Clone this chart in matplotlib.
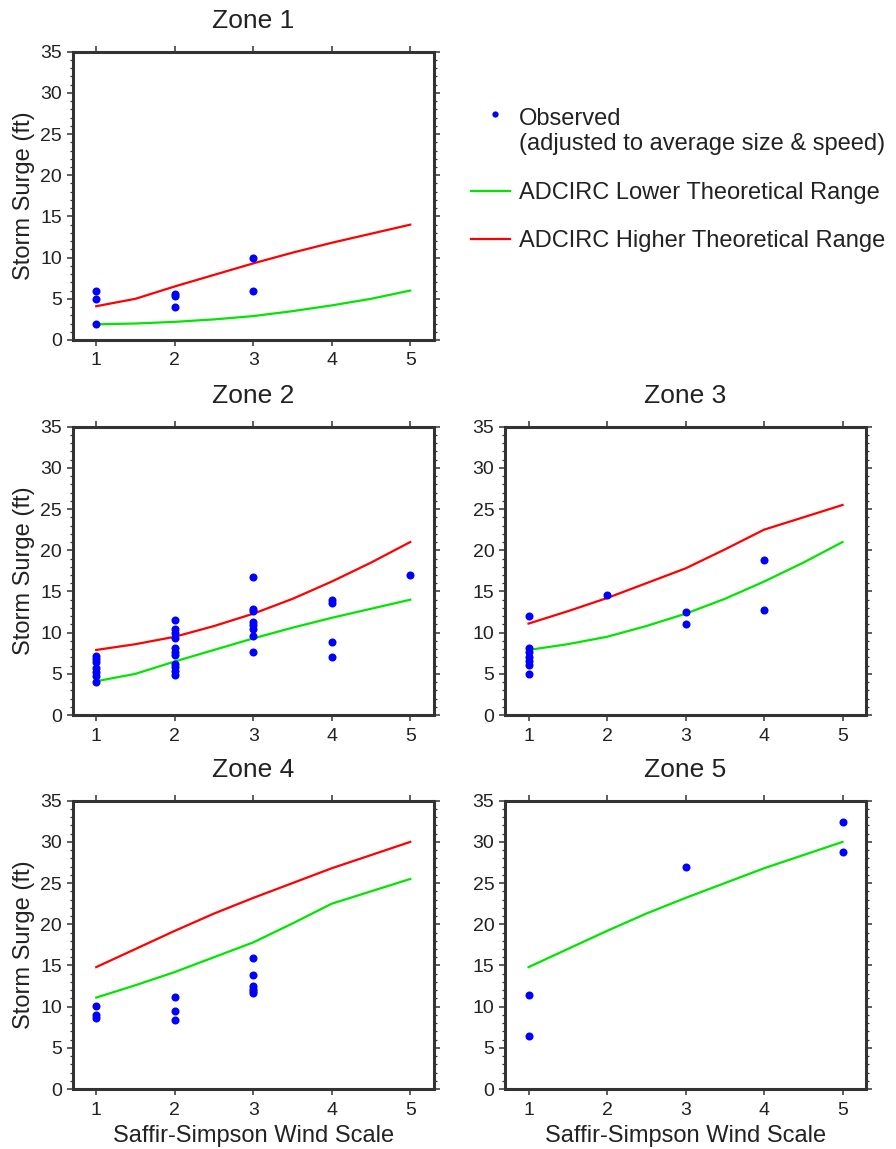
import matplotlib
matplotlib.use("Agg")
import matplotlib.pyplot as plt
from matplotlib.lines import Line2D
from matplotlib.ticker import MultipleLocator
from matplotlib.legend_handler import HandlerLine2D

plt.rcParams['font.family'] = ['Liberation Sans', 'DejaVu Sans']

# --- DATA ---
# theoretical ADCIRC curves (storm surge in ft vs Saffir-Simpson category)
curve_x = [1, 1.5, 2, 2.5, 3, 3.5, 4, 4.5, 5]
surge_a = [1.9, 2.0, 2.2, 2.5, 2.9, 3.5, 4.2, 5.0, 6.0]
surge_b = [4.1, 5.0, 6.5, 7.9, 9.3, 10.6, 11.8, 12.9, 14.0]
surge_c = [7.9, 8.6, 9.5, 10.8, 12.3, 14.1, 16.2, 18.5, 21.0]
surge_d = [11.1, 12.6, 14.2, 16.0, 17.8, 20.1, 22.5, 24.0, 25.5]
surge_e = [14.8, 17.0, 19.2, 21.3, 23.2, 25.0, 26.8, 28.4, 30.0]

zone_names = ['Zone 1', 'Zone 2', 'Zone 3', 'Zone 4', 'Zone 5']
zone_lower = [surge_a, surge_b, surge_c, surge_d, surge_e]
zone_upper = [surge_b, surge_c, surge_d, surge_e, None]

# observed surges (adjusted to average size & speed)
zone1_x = [1, 1, 1, 2, 2, 2, 3, 3]
zone1_y = [6.0, 5.0, 2.0, 5.6, 5.4, 4.0, 10.0, 6.0]

zone2_x = [1] * 7 + [2] * 11 + [3] * 8 + [4] * 4 + [5]
zone2_y = [7.2, 6.8, 6.4, 5.7, 5.2, 4.7, 4.0,
           11.5, 10.4, 9.9, 9.4, 8.1, 7.6, 7.3, 6.2, 5.8, 5.4, 4.9,
           16.7, 12.9, 12.6, 11.3, 10.9, 10.5, 9.6, 7.6,
           14.0, 13.6, 8.9, 7.1,
           17.0]

zone3_x = [1] * 7 + [2] + [3] * 2 + [4] * 2
zone3_y = [12.0, 8.1, 7.6, 7.1, 6.6, 6.1, 5.0, 14.6, 12.5, 11.0, 18.8, 12.8]

zone4_x = [1] * 3 + [2] * 3 + [3] * 6
zone4_y = [10.1, 9.0, 8.6, 11.2, 9.5, 8.4, 15.9, 13.8, 12.5, 12.2, 11.9, 11.6]

zone5_x = [1, 1, 3, 5, 5]
zone5_y = [11.4, 6.4, 26.9, 32.4, 28.8]

obs_x = [zone1_x, zone2_x, zone3_x, zone4_x, zone5_x]
obs_y = [zone1_y, zone2_y, zone3_y, zone4_y, zone5_y]

# --- STYLE ---
BLUE = '#0000ff'
GREEN = '#00e600'
RED = '#ff0000'
FRAME = '#333333'
TXT = '#222222'

fig = plt.figure(figsize=(8.96, 11.49), dpi=100)

col_left = [0.0811, 0.5636]
col_w = 0.403
row_bottom = [0.7041, 0.3777, 0.0522]
row_h = 0.2509
slots = [(0, 0), (1, 0), (1, 1), (2, 0), (2, 1)]


class ShiftedMarker(HandlerLine2D):
    """Legend marker drawn next to the first line of a two-line label."""
    def create_artists(self, legend, orig_handle, xdescent, ydescent,
                       width, height, fontsize, trans):
        return super().create_artists(legend, orig_handle,
                                      xdescent - 0.2 * fontsize,
                                      ydescent - 1.5 * fontsize,
                                      width, height, fontsize, trans)


def style_axes(ax, show_ylabel, show_xlabel):
    ax.set_xlim(0.7, 5.3)
    ax.set_ylim(0, 35)
    ax.xaxis.set_major_locator(MultipleLocator(1))
    ax.yaxis.set_major_locator(MultipleLocator(5))
    ax.yaxis.set_minor_locator(MultipleLocator(1))
    for sp in ax.spines.values():
        sp.set_linewidth(2.2)
        sp.set_color(FRAME)
    ax.tick_params(which='major', direction='out', length=4.5, width=1.1,
                   color=FRAME, top=True, right=True, labelsize=14,
                   labelcolor=TXT, pad=3.2)
    ax.tick_params(which='minor', direction='out', length=2.2, width=0.9,
                   color=FRAME, left=True, right=True)
    ax.tick_params(axis='x', which='major', pad=4.5)
    if show_ylabel:
        ax.set_ylabel('Storm Surge (ft)', fontsize=17, color=TXT, labelpad=4)
    if show_xlabel:
        ax.set_xlabel('Saffir-Simpson Wind Scale', fontsize=17, color=TXT,
                      labelpad=5)


for i, (r, c) in enumerate(slots):
    ax = fig.add_axes([col_left[c], row_bottom[r], col_w, row_h])
    ax.plot(curve_x, zone_lower[i], color=GREEN, lw=1.6, zorder=2)
    if zone_upper[i] is not None:
        ax.plot(curve_x, zone_upper[i], color=RED, lw=1.6, zorder=2)
    ax.plot(obs_x[i], obs_y[i], 'o', color=BLUE, ms=5.8, mec='none', zorder=3)
    ax.set_title(zone_names[i], fontsize=19, color=TXT, pad=17)
    style_axes(ax, show_ylabel=(c == 0), show_xlabel=(r == 2))

# --- LEGEND ---
handles = [
    Line2D([], [], ls='none', marker='o', color=BLUE, ms=4.5, mec='none'),
    Line2D([], [], color=GREEN, lw=1.6),
    Line2D([], [], color=RED, lw=1.6),
]
labels = [
    'Observed\n(adjusted to average size & speed)',
    'ADCIRC Lower Theoretical Range',
    'ADCIRC Higher Theoretical Range',
]
leg = fig.legend(handles, labels, loc='upper left',
                 bbox_to_anchor=(0.526, 0.906), frameon=False, fontsize=17,
                 handlelength=1.65, handletextpad=0.35, labelspacing=1.12,
                 borderpad=0, borderaxespad=0,
                 handler_map={handles[0]: ShiftedMarker()})
for t in leg.get_texts():
    t.set_color(TXT)

fig.savefig('out.png', dpi=100)
plt.close(fig)
